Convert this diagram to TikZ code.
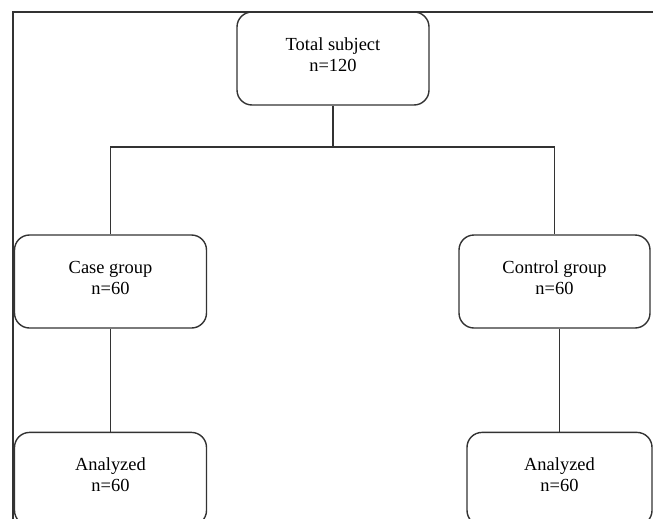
\documentclass[tikz,border=0pt]{standalone}
\usepackage{fontspec}
\setmainfont{Liberation Serif}
\usetikzlibrary{positioning}
\tikzstyle{rbox} = [rectangle,
rounded corners=0.3cm,
minimum width=3.84cm,
minimum height=1.86cm,
text depth=0.16cm,
align=center,
draw=black!80,
line width=0.8pt,
font=\fontsize{10.5}{12}\selectfont]
\tikzstyle{link} = [draw=black!80, line width=0.7pt]
\begin{document}
\begin{tikzpicture}[node distance=2.06cm]
\useasboundingbox (0,0) rectangle (13.06,-10.36);
\clip (0,0) rectangle (13.06,-10.36);

% outer frame
\draw [link] (0.26,-10.5) -- (0.26,-0.24) -- (13.2,-0.24);

\node (total) [rbox] at (6.66,-1.17) {Total subject\\n=120};

\node (case) [rbox] at (2.21,-5.63) {Case group\\n=60};

\node (control) [rbox, minimum width=3.82cm] at (11.09,-5.63) {Control group\\n=60};

\node (case_an) [rbox, below = of case] {Analyzed\\n=60};

\node (control_an) [rbox, minimum width=3.7cm, below = of control, xshift=0.1cm] {Analyzed\\n=60};

\coordinate (split) at (6.66,-2.94);

\draw [link] (total.south) -- (split);
\draw [link] (case.north) |- (split) -| (control.north);
\draw [link] (case) -- (case_an);
\draw [link] (control.south -| control_an.north) -- (control_an.north);

\end{tikzpicture}
\end{document}
